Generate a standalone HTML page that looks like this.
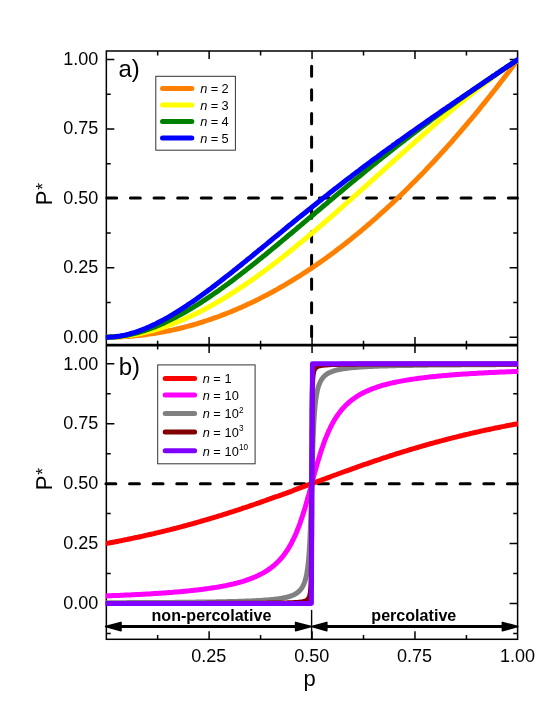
<!DOCTYPE html><html><head><meta charset="utf-8"><style>html,body{margin:0;padding:0;background:#fff}svg{display:block;will-change:transform}text{font-family:"Liberation Sans",sans-serif;fill:#000}</style></head><body>
<svg width="548" height="709" viewBox="0 0 548 709">
<rect width="548" height="709" fill="#fff"/>
<defs><clipPath id="ca"><rect x="105.7" y="51.0" width="412.3" height="294.1"/></clipPath><clipPath id="cb"><rect x="105.7" y="345.1" width="412.3" height="294.19999999999993"/></clipPath></defs>
<rect x="106.35" y="51.0" width="411.25" height="588.3" stroke="#000" stroke-width="1.5" fill="none"/>
<path d="M106.35 345.1H517.6" stroke="#000" stroke-width="2.7" fill="none"/>
<path d="M157.66 51.0v4.4M157.66 345.1v-4.4M157.66 345.1v4.4M157.66 639.3v-4.4M209.12 51.0v8.0M209.12 345.1v-8.0M209.12 345.1v8.0M209.12 639.3v-8.0M260.59 51.0v4.4M260.59 345.1v-4.4M260.59 345.1v4.4M260.59 639.3v-4.4M312.05 51.0v8.0M312.05 345.1v-8.0M312.05 345.1v8.0M312.05 639.3v-8.0M363.51 51.0v4.4M363.51 345.1v-4.4M363.51 345.1v4.4M363.51 639.3v-4.4M414.97 51.0v8.0M414.97 345.1v-8.0M414.97 345.1v8.0M414.97 639.3v-8.0M466.44 51.0v4.4M466.44 345.1v-4.4M466.44 345.1v4.4M466.44 639.3v-4.4M106.35 337.20h8.0M517.6 337.20h-8.0M106.35 302.49h4.4M517.6 302.49h-4.4M106.35 267.77h8.0M517.6 267.77h-8.0M106.35 233.06h4.4M517.6 233.06h-4.4M106.35 198.35h8.0M517.6 198.35h-8.0M106.35 163.64h4.4M517.6 163.64h-4.4M106.35 128.93h8.0M517.6 128.93h-8.0M106.35 94.21h4.4M517.6 94.21h-4.4M106.35 59.50h8.0M517.6 59.50h-8.0M106.35 633.46h4.4M517.6 633.46h-4.4M106.35 603.50h8.0M517.6 603.50h-8.0M106.35 573.54h4.4M517.6 573.54h-4.4M106.35 543.58h8.0M517.6 543.58h-8.0M106.35 513.61h4.4M517.6 513.61h-4.4M106.35 483.65h8.0M517.6 483.65h-8.0M106.35 453.69h4.4M517.6 453.69h-4.4M106.35 423.73h8.0M517.6 423.73h-8.0M106.35 393.76h4.4M517.6 393.76h-4.4M106.35 363.80h8.0M517.6 363.80h-8.0" stroke="#000" stroke-width="1.5" fill="none"/>
<path d="M106.8 198.00H517.4" stroke="#000" stroke-width="3" stroke-linecap="round" stroke-dasharray="9.9 13.72" fill="none"/>
<path d="M311.6 336.50V59.50" stroke="#000" stroke-width="3" stroke-linecap="round" stroke-dasharray="10.2 13.45" fill="none"/>
<g clip-path="url(#ca)">
<polyline points="104.1,337.2 106.2,337.2 108.3,337.2 110.3,337.2 112.4,337.1 114.4,337.1 116.5,337.0 118.6,337.0 120.6,336.9 122.7,336.8 124.7,336.6 126.8,336.5 128.8,336.4 130.9,336.2 133.0,336.0 135.0,335.8 137.1,335.6 139.1,335.4 141.2,335.2 143.3,335.0 145.3,334.7 147.4,334.4 149.4,334.1 151.5,333.8 153.5,333.5 155.6,333.2 157.7,332.9 159.7,332.5 161.8,332.1 163.8,331.8 165.9,331.4 168.0,331.0 170.0,330.5 172.1,330.1 174.1,329.6 176.2,329.2 178.2,328.7 180.3,328.2 182.4,327.7 184.4,327.2 186.5,326.6 188.5,326.1 190.6,325.5 192.7,325.0 194.7,324.4 196.8,323.8 198.8,323.1 200.9,322.5 202.9,321.9 205.0,321.2 207.1,320.5 209.1,319.8 211.2,319.1 213.2,318.4 215.3,317.7 217.4,317.0 219.4,316.2 221.5,315.4 223.5,314.6 225.6,313.8 227.7,313.0 229.7,312.2 231.8,311.4 233.8,310.5 235.9,309.6 237.9,308.8 240.0,307.9 242.1,307.0 244.1,306.0 246.2,305.1 248.2,304.1 250.3,303.2 252.4,302.2 254.4,301.2 256.5,300.2 258.5,299.2 260.6,298.1 262.6,297.1 264.7,296.0 266.8,295.0 268.8,293.9 270.9,292.8 272.9,291.7 275.0,290.5 277.1,289.4 279.1,288.2 281.2,287.0 283.2,285.9 285.3,284.7 287.3,283.4 289.4,282.2 291.5,281.0 293.5,279.7 295.6,278.4 297.6,277.2 299.7,275.9 301.8,274.5 303.8,273.2 305.9,271.9 307.9,270.5 310.0,269.2 312.1,267.8 314.1,266.4 316.2,265.0 318.2,263.5 320.3,262.1 322.3,260.7 324.4,259.2 326.5,257.7 328.5,256.2 330.6,254.7 332.6,253.2 334.7,251.7 336.8,250.1 338.8,248.6 340.9,247.0 342.9,245.4 345.0,243.8 347.0,242.2 349.1,240.5 351.2,238.9 353.2,237.2 355.3,235.6 357.3,233.9 359.4,232.2 361.5,230.5 363.5,228.7 365.6,227.0 367.6,225.2 369.7,223.5 371.7,221.7 373.8,219.9 375.9,218.1 377.9,216.2 380.0,214.4 382.0,212.5 384.1,210.7 386.2,208.8 388.2,206.9 390.3,205.0 392.3,203.1 394.4,201.1 396.4,199.2 398.5,197.2 400.6,195.2 402.6,193.2 404.7,191.2 406.7,189.2 408.8,187.2 410.9,185.1 412.9,183.1 415.0,181.0 417.0,178.9 419.1,176.8 421.2,174.7 423.2,172.6 425.3,170.4 427.3,168.2 429.4,166.1 431.4,163.9 433.5,161.7 435.6,159.5 437.6,157.2 439.7,155.0 441.7,152.7 443.8,150.5 445.9,148.2 447.9,145.9 450.0,143.6 452.0,141.3 454.1,138.9 456.1,136.6 458.2,134.2 460.3,131.8 462.3,129.4 464.4,127.0 466.4,124.6 468.5,122.1 470.6,119.7 472.6,117.2 474.7,114.8 476.7,112.3 478.8,109.8 480.8,107.2 482.9,104.7 485.0,102.2 487.0,99.6 489.1,97.0 491.1,94.4 493.2,91.8 495.3,89.2 497.3,86.6 499.4,83.9 501.4,81.3 503.5,78.6 505.5,75.9 507.6,73.2 509.7,70.5 511.7,67.8 513.8,65.0 515.8,62.3 517.9,59.5" fill="none" stroke="#FF8000" stroke-width="5" stroke-linejoin="round"/>
<polyline points="104.1,337.2 106.2,337.2 108.3,337.2 110.3,337.1 112.4,337.1 114.4,337.0 116.5,336.9 118.6,336.7 120.6,336.5 122.7,336.3 124.7,336.1 126.8,335.8 128.8,335.6 130.9,335.3 133.0,334.9 135.0,334.6 137.1,334.2 139.1,333.8 141.2,333.4 143.3,332.9 145.3,332.4 147.4,331.9 149.4,331.4 151.5,330.8 153.5,330.3 155.6,329.7 157.7,329.1 159.7,328.4 161.8,327.8 163.8,327.1 165.9,326.4 168.0,325.6 170.0,324.9 172.1,324.1 174.1,323.3 176.2,322.5 178.2,321.7 180.3,320.8 182.4,319.9 184.4,319.1 186.5,318.1 188.5,317.2 190.6,316.3 192.7,315.3 194.7,314.3 196.8,313.3 198.8,312.2 200.9,311.2 202.9,310.1 205.0,309.0 207.1,307.9 209.1,306.8 211.2,305.7 213.2,304.5 215.3,303.4 217.4,302.2 219.4,301.0 221.5,299.8 223.5,298.5 225.6,297.3 227.7,296.0 229.7,294.7 231.8,293.4 233.8,292.1 235.9,290.8 237.9,289.4 240.0,288.1 242.1,286.7 244.1,285.3 246.2,283.9 248.2,282.5 250.3,281.1 252.4,279.6 254.4,278.2 256.5,276.7 258.5,275.2 260.6,273.7 262.6,272.2 264.7,270.7 266.8,269.2 268.8,267.7 270.9,266.1 272.9,264.5 275.0,263.0 277.1,261.4 279.1,259.8 281.2,258.2 283.2,256.6 285.3,255.0 287.3,253.3 289.4,251.7 291.5,250.0 293.5,248.4 295.6,246.7 297.6,245.0 299.7,243.3 301.8,241.6 303.8,239.9 305.9,238.2 307.9,236.5 310.0,234.8 312.1,233.1 314.1,231.3 316.2,229.6 318.2,227.8 320.3,226.1 322.3,224.3 324.4,222.5 326.5,220.8 328.5,219.0 330.6,217.2 332.6,215.4 334.7,213.6 336.8,211.8 338.8,210.0 340.9,208.2 342.9,206.4 345.0,204.5 347.0,202.7 349.1,200.9 351.2,199.1 353.2,197.2 355.3,195.4 357.3,193.6 359.4,191.7 361.5,189.9 363.5,188.0 365.6,186.2 367.6,184.4 369.7,182.5 371.7,180.7 373.8,178.8 375.9,177.0 377.9,175.1 380.0,173.3 382.0,171.4 384.1,169.6 386.2,167.7 388.2,165.9 390.3,164.0 392.3,162.2 394.4,160.3 396.4,158.5 398.5,156.6 400.6,154.8 402.6,152.9 404.7,151.1 406.7,149.3 408.8,147.4 410.9,145.6 412.9,143.8 415.0,141.9 417.0,140.1 419.1,138.3 421.2,136.5 423.2,134.7 425.3,132.9 427.3,131.1 429.4,129.3 431.4,127.5 433.5,125.7 435.6,123.9 437.6,122.2 439.7,120.4 441.7,118.6 443.8,116.9 445.9,115.1 447.9,113.4 450.0,111.6 452.0,109.9 454.1,108.2 456.1,106.5 458.2,104.8 460.3,103.1 462.3,101.4 464.4,99.7 466.4,98.0 468.5,96.3 470.6,94.7 472.6,93.0 474.7,91.4 476.7,89.8 478.8,88.1 480.8,86.5 482.9,84.9 485.0,83.4 487.0,81.8 489.1,80.2 491.1,78.6 493.2,77.1 495.3,75.6 497.3,74.0 499.4,72.5 501.4,71.0 503.5,69.5 505.5,68.1 507.6,66.6 509.7,65.2 511.7,63.7 513.8,62.3 515.8,60.9 517.9,59.5" fill="none" stroke="#FFFF00" stroke-width="5" stroke-linejoin="round"/>
<polyline points="104.1,337.2 106.2,337.2 108.3,337.2 110.3,337.1 112.4,337.0 114.4,336.9 116.5,336.7 118.6,336.5 120.6,336.2 122.7,335.9 124.7,335.6 126.8,335.2 128.8,334.8 130.9,334.4 133.0,333.9 135.0,333.4 137.1,332.9 139.1,332.3 141.2,331.7 143.3,331.0 145.3,330.4 147.4,329.7 149.4,328.9 151.5,328.2 153.5,327.4 155.6,326.6 157.7,325.7 159.7,324.9 161.8,324.0 163.8,323.1 165.9,322.1 168.0,321.1 170.0,320.1 172.1,319.1 174.1,318.1 176.2,317.0 178.2,315.9 180.3,314.8 182.4,313.6 184.4,312.5 186.5,311.3 188.5,310.1 190.6,308.9 192.7,307.6 194.7,306.4 196.8,305.1 198.8,303.8 200.9,302.5 202.9,301.2 205.0,299.8 207.1,298.4 209.1,297.1 211.2,295.7 213.2,294.3 215.3,292.8 217.4,291.4 219.4,289.9 221.5,288.5 223.5,287.0 225.6,285.5 227.7,284.0 229.7,282.5 231.8,280.9 233.8,279.4 235.9,277.8 237.9,276.3 240.0,274.7 242.1,273.1 244.1,271.5 246.2,269.9 248.2,268.3 250.3,266.7 252.4,265.1 254.4,263.4 256.5,261.8 258.5,260.1 260.6,258.5 262.6,256.8 264.7,255.2 266.8,253.5 268.8,251.8 270.9,250.1 272.9,248.4 275.0,246.7 277.1,245.0 279.1,243.3 281.2,241.6 283.2,239.9 285.3,238.2 287.3,236.5 289.4,234.7 291.5,233.0 293.5,231.3 295.6,229.6 297.6,227.8 299.7,226.1 301.8,224.4 303.8,222.6 305.9,220.9 307.9,219.2 310.0,217.4 312.1,215.7 314.1,214.0 316.2,212.2 318.2,210.5 320.3,208.8 322.3,207.0 324.4,205.3 326.5,203.6 328.5,201.8 330.6,200.1 332.6,198.4 334.7,196.7 336.8,194.9 338.8,193.2 340.9,191.5 342.9,189.8 345.0,188.1 347.0,186.4 349.1,184.6 351.2,182.9 353.2,181.2 355.3,179.5 357.3,177.9 359.4,176.2 361.5,174.5 363.5,172.8 365.6,171.1 367.6,169.4 369.7,167.8 371.7,166.1 373.8,164.4 375.9,162.8 377.9,161.1 380.0,159.5 382.0,157.8 384.1,156.2 386.2,154.6 388.2,152.9 390.3,151.3 392.3,149.7 394.4,148.1 396.4,146.4 398.5,144.8 400.6,143.2 402.6,141.6 404.7,140.1 406.7,138.5 408.8,136.9 410.9,135.3 412.9,133.7 415.0,132.2 417.0,130.6 419.1,129.1 421.2,127.5 423.2,126.0 425.3,124.4 427.3,122.9 429.4,121.4 431.4,119.8 433.5,118.3 435.6,116.8 437.6,115.3 439.7,113.8 441.7,112.3 443.8,110.8 445.9,109.3 447.9,107.8 450.0,106.4 452.0,104.9 454.1,103.4 456.1,102.0 458.2,100.5 460.3,99.0 462.3,97.6 464.4,96.1 466.4,94.7 468.5,93.2 470.6,91.8 472.6,90.4 474.7,88.9 476.7,87.5 478.8,86.1 480.8,84.7 482.9,83.3 485.0,81.8 487.0,80.4 489.1,79.0 491.1,77.6 493.2,76.2 495.3,74.8 497.3,73.4 499.4,72.0 501.4,70.6 503.5,69.2 505.5,67.8 507.6,66.4 509.7,65.1 511.7,63.7 513.8,62.3 515.8,60.9 517.9,59.5" fill="none" stroke="#008000" stroke-width="5" stroke-linejoin="round"/>
<polyline points="104.1,337.2 106.2,337.2 108.3,337.2 110.3,337.1 112.4,337.0 114.4,336.8 116.5,336.5 118.6,336.2 120.6,335.9 122.7,335.5 124.7,335.1 126.8,334.6 128.8,334.1 130.9,333.5 133.0,332.9 135.0,332.3 137.1,331.6 139.1,330.9 141.2,330.1 143.3,329.3 145.3,328.5 147.4,327.6 149.4,326.8 151.5,325.8 153.5,324.9 155.6,323.9 157.7,322.8 159.7,321.8 161.8,320.7 163.8,319.6 165.9,318.5 168.0,317.3 170.0,316.1 172.1,314.9 174.1,313.7 176.2,312.4 178.2,311.1 180.3,309.8 182.4,308.5 184.4,307.1 186.5,305.8 188.5,304.4 190.6,303.0 192.7,301.6 194.7,300.2 196.8,298.7 198.8,297.3 200.9,295.8 202.9,294.3 205.0,292.8 207.1,291.3 209.1,289.7 211.2,288.2 213.2,286.6 215.3,285.1 217.4,283.5 219.4,281.9 221.5,280.3 223.5,278.7 225.6,277.1 227.7,275.5 229.7,273.9 231.8,272.3 233.8,270.6 235.9,269.0 237.9,267.3 240.0,265.7 242.1,264.0 244.1,262.4 246.2,260.7 248.2,259.0 250.3,257.4 252.4,255.7 254.4,254.0 256.5,252.3 258.5,250.6 260.6,249.0 262.6,247.3 264.7,245.6 266.8,243.9 268.8,242.2 270.9,240.5 272.9,238.8 275.0,237.1 277.1,235.5 279.1,233.8 281.2,232.1 283.2,230.4 285.3,228.7 287.3,227.0 289.4,225.3 291.5,223.7 293.5,222.0 295.6,220.3 297.6,218.6 299.7,217.0 301.8,215.3 303.8,213.7 305.9,212.0 307.9,210.3 310.0,208.7 312.1,207.0 314.1,205.4 316.2,203.7 318.2,202.1 320.3,200.5 322.3,198.8 324.4,197.2 326.5,195.6 328.5,194.0 330.6,192.3 332.6,190.7 334.7,189.1 336.8,187.5 338.8,185.9 340.9,184.3 342.9,182.7 345.0,181.1 347.0,179.6 349.1,178.0 351.2,176.4 353.2,174.8 355.3,173.3 357.3,171.7 359.4,170.2 361.5,168.6 363.5,167.1 365.6,165.5 367.6,164.0 369.7,162.5 371.7,160.9 373.8,159.4 375.9,157.9 377.9,156.4 380.0,154.9 382.0,153.3 384.1,151.8 386.2,150.3 388.2,148.8 390.3,147.4 392.3,145.9 394.4,144.4 396.4,142.9 398.5,141.4 400.6,140.0 402.6,138.5 404.7,137.0 406.7,135.6 408.8,134.1 410.9,132.6 412.9,131.2 415.0,129.7 417.0,128.3 419.1,126.8 421.2,125.4 423.2,124.0 425.3,122.5 427.3,121.1 429.4,119.7 431.4,118.2 433.5,116.8 435.6,115.4 437.6,114.0 439.7,112.6 441.7,111.1 443.8,109.7 445.9,108.3 447.9,106.9 450.0,105.5 452.0,104.1 454.1,102.7 456.1,101.3 458.2,99.9 460.3,98.5 462.3,97.1 464.4,95.7 466.4,94.3 468.5,92.9 470.6,91.5 472.6,90.1 474.7,88.7 476.7,87.3 478.8,85.9 480.8,84.5 482.9,83.1 485.0,81.7 487.0,80.3 489.1,78.9 491.1,77.6 493.2,76.2 495.3,74.8 497.3,73.4 499.4,72.0 501.4,70.6 503.5,69.2 505.5,67.8 507.6,66.4 509.7,65.1 511.7,63.7 513.8,62.3 515.8,60.9 517.9,59.5 520.0,58.1 522.0,56.7" fill="none" stroke="#0000FF" stroke-width="5" stroke-linejoin="round"/>
</g>
<path d="M105.9 483.65H517.4" stroke="#000" stroke-width="3" stroke-linecap="round" stroke-dasharray="9.9 13.72" fill="none"/>
<g clip-path="url(#cb)">
<polyline points="104.5,543.8 105.9,543.6 107.3,543.3 108.6,543.1 110.0,542.8 111.4,542.5 112.8,542.3 114.1,542.0 115.5,541.8 116.9,541.5 118.3,541.2 119.6,540.9 121.0,540.7 122.4,540.4 123.7,540.1 125.1,539.8 126.5,539.6 127.9,539.3 129.2,539.0 130.6,538.7 132.0,538.4 133.3,538.1 134.7,537.8 136.1,537.5 137.5,537.3 138.8,537.0 140.2,536.7 141.6,536.4 143.0,536.1 144.3,535.7 145.7,535.4 147.1,535.1 148.4,534.8 149.8,534.5 151.2,534.2 152.6,533.9 153.9,533.6 155.3,533.2 156.7,532.9 158.1,532.6 159.4,532.3 160.8,531.9 162.2,531.6 163.5,531.3 164.9,530.9 166.3,530.6 167.7,530.2 169.0,529.9 170.4,529.6 171.8,529.2 173.1,528.9 174.5,528.5 175.9,528.2 177.3,527.8 178.6,527.4 180.0,527.1 181.4,526.7 182.8,526.4 184.1,526.0 185.5,525.6 186.9,525.3 188.2,524.9 189.6,524.5 191.0,524.1 192.4,523.8 193.7,523.4 195.1,523.0 196.5,522.6 197.8,522.2 199.2,521.8 200.6,521.4 202.0,521.0 203.3,520.6 204.7,520.2 206.1,519.8 207.5,519.4 208.8,519.0 210.2,518.6 211.6,518.2 212.9,517.8 214.3,517.4 215.7,517.0 217.1,516.5 218.4,516.1 219.8,515.7 221.2,515.3 222.5,514.8 223.9,514.4 225.3,514.0 226.7,513.6 228.0,513.1 229.4,512.7 230.8,512.2 232.2,511.8 233.5,511.4 234.9,510.9 236.3,510.5 237.6,510.0 239.0,509.6 240.4,509.1 241.8,508.7 243.1,508.2 244.5,507.7 245.9,507.3 247.2,506.8 248.6,506.4 250.0,505.9 251.4,505.4 252.7,505.0 254.1,504.5 255.5,504.0 256.9,503.5 258.2,503.1 259.6,502.6 261.0,502.1 262.3,501.6 263.7,501.1 265.1,500.7 266.5,500.2 267.8,499.7 269.2,499.2 270.6,498.7 272.0,498.2 273.3,497.7 274.7,497.2 276.1,496.7 277.4,496.3 278.8,495.8 280.2,495.3 281.6,494.8 282.9,494.3 284.3,493.8 285.7,493.3 287.0,492.8 288.4,492.3 289.8,491.8 291.2,491.3 292.5,490.8 293.9,490.2 295.3,489.7 296.7,489.2 298.0,488.7 299.4,488.2 300.8,487.7 302.1,487.2 303.5,486.7 304.9,486.2 306.3,485.7 307.6,485.2 309.0,484.7 310.4,484.2 311.8,483.6 313.1,483.1 314.5,482.6 315.9,482.1 317.2,481.6 318.6,481.1 320.0,480.6 321.4,480.1 322.7,479.6 324.1,479.1 325.5,478.6 326.8,478.1 328.2,477.6 329.6,477.1 331.0,476.5 332.3,476.0 333.7,475.5 335.1,475.0 336.5,474.5 337.8,474.0 339.2,473.5 340.6,473.0 341.9,472.5 343.3,472.0 344.7,471.5 346.1,471.0 347.4,470.6 348.8,470.1 350.2,469.6 351.5,469.1 352.9,468.6 354.3,468.1 355.7,467.6 357.0,467.1 358.4,466.6 359.8,466.2 361.2,465.7 362.5,465.2 363.9,464.7 365.3,464.2 366.6,463.8 368.0,463.3 369.4,462.8 370.8,462.3 372.1,461.9 373.5,461.4 374.9,460.9 376.3,460.5 377.6,460.0 379.0,459.6 380.4,459.1 381.7,458.6 383.1,458.2 384.5,457.7 385.9,457.3 387.2,456.8 388.6,456.4 390.0,455.9 391.3,455.5 392.7,455.1 394.1,454.6 395.5,454.2 396.8,453.7 398.2,453.3 399.6,452.9 401.0,452.5 402.3,452.0 403.7,451.6 405.1,451.2 406.4,450.8 407.8,450.3 409.2,449.9 410.6,449.5 411.9,449.1 413.3,448.7 414.7,448.3 416.0,447.9 417.4,447.5 418.8,447.1 420.2,446.7 421.5,446.3 422.9,445.9 424.3,445.5 425.7,445.1 427.0,444.7 428.4,444.3 429.8,443.9 431.1,443.5 432.5,443.2 433.9,442.8 435.3,442.4 436.6,442.0 438.0,441.7 439.4,441.3 440.7,440.9 442.1,440.6 443.5,440.2 444.9,439.9 446.2,439.5 447.6,439.1 449.0,438.8 450.4,438.4 451.7,438.1 453.1,437.7 454.5,437.4 455.8,437.1 457.2,436.7 458.6,436.4 460.0,436.0 461.3,435.7 462.7,435.4 464.1,435.0 465.4,434.7 466.8,434.4 468.2,434.1 469.6,433.7 470.9,433.4 472.3,433.1 473.7,432.8 475.1,432.5 476.4,432.2 477.8,431.9 479.2,431.6 480.5,431.2 481.9,430.9 483.3,430.6 484.7,430.3 486.0,430.0 487.4,429.8 488.8,429.5 490.2,429.2 491.5,428.9 492.9,428.6 494.3,428.3 495.6,428.0 497.0,427.7 498.4,427.5 499.8,427.2 501.1,426.9 502.5,426.6 503.9,426.4 505.2,426.1 506.6,425.8 508.0,425.5 509.4,425.3 510.7,425.0 512.1,424.8 513.5,424.5 514.9,424.2 516.2,424.0 517.6,423.7 519.0,423.5 520.3,423.2" fill="none" stroke="#FF0000" stroke-width="5" stroke-linejoin="round"/>
<polyline points="104.5,595.9 105.9,595.9 107.3,595.8 108.6,595.8 110.0,595.7 111.4,595.7 112.8,595.6 114.1,595.6 115.5,595.5 116.9,595.5 118.3,595.4 119.6,595.4 121.0,595.3 122.4,595.2 123.7,595.2 125.1,595.1 126.5,595.1 127.9,595.0 129.2,594.9 130.6,594.9 132.0,594.8 133.3,594.7 134.7,594.7 136.1,594.6 137.5,594.5 138.8,594.5 140.2,594.4 141.6,594.3 143.0,594.2 144.3,594.2 145.7,594.1 147.1,594.0 148.4,593.9 149.8,593.9 151.2,593.8 152.6,593.7 153.9,593.6 155.3,593.5 156.7,593.4 158.1,593.3 159.4,593.3 160.8,593.2 162.2,593.1 163.5,593.0 164.9,592.9 166.3,592.8 167.7,592.7 169.0,592.6 170.4,592.5 171.8,592.4 173.1,592.3 174.5,592.1 175.9,592.0 177.3,591.9 178.6,591.8 180.0,591.7 181.4,591.6 182.8,591.4 184.1,591.3 185.5,591.2 186.9,591.0 188.2,590.9 189.6,590.8 191.0,590.6 192.4,590.5 193.7,590.3 195.1,590.2 196.5,590.0 197.8,589.9 199.2,589.7 200.6,589.5 202.0,589.4 203.3,589.2 204.7,589.0 206.1,588.8 207.5,588.6 208.8,588.4 210.2,588.2 211.6,588.0 212.9,587.8 214.3,587.6 215.7,587.4 217.1,587.2 218.4,586.9 219.8,586.7 221.2,586.4 222.5,586.2 223.9,585.9 225.3,585.7 226.7,585.4 228.0,585.1 229.4,584.8 230.8,584.5 232.2,584.2 233.5,583.9 234.9,583.5 236.3,583.2 237.6,582.8 239.0,582.5 240.4,582.1 241.8,581.7 243.1,581.3 244.5,580.8 245.9,580.4 247.2,579.9 248.6,579.4 250.0,579.0 251.4,578.4 252.7,577.9 254.1,577.3 255.5,576.7 256.9,576.1 258.2,575.5 259.6,574.8 261.0,574.1 262.3,573.4 263.7,572.6 265.1,571.8 266.5,570.9 267.8,570.1 269.2,569.1 270.6,568.1 271.0,567.8 271.4,567.5 271.8,567.2 272.0,567.1 272.2,566.9 272.6,566.5 273.1,566.2 273.3,566.0 273.5,565.9 273.9,565.5 274.3,565.2 274.7,564.8 275.1,564.4 275.5,564.1 275.9,563.7 276.1,563.6 276.3,563.3 276.8,562.9 277.2,562.5 277.4,562.3 277.6,562.1 278.0,561.7 278.4,561.3 278.8,560.9 279.2,560.4 279.6,560.0 280.0,559.6 280.2,559.4 280.5,559.1 280.9,558.6 281.3,558.2 281.6,557.8 281.7,557.7 282.1,557.2 282.5,556.7 282.9,556.2 283.3,555.7 283.8,555.1 284.2,554.6 284.3,554.4 284.6,554.0 285.0,553.5 285.4,552.9 285.7,552.5 285.8,552.3 286.2,551.7 286.6,551.1 287.0,550.5 287.5,549.9 287.9,549.2 288.3,548.6 288.4,548.3 288.7,547.9 289.1,547.2 289.5,546.5 289.8,546.0 289.9,545.8 290.3,545.1 290.8,544.3 291.2,543.6 291.6,542.8 292.0,542.0 292.4,541.2 292.5,540.9 292.8,540.4 293.2,539.6 293.6,538.7 293.9,538.1 294.0,537.8 294.5,537.0 294.9,536.1 295.3,535.1 295.7,534.2 296.1,533.2 296.5,532.3 296.7,531.9 296.9,531.3 297.3,530.2 297.8,529.2 298.0,528.5 298.2,528.2 298.6,527.1 299.0,526.0 299.4,524.9 299.8,523.8 300.2,522.6 300.6,521.4 300.8,521.0 301.0,520.2 301.5,519.0 301.9,517.8 302.1,517.0 302.3,516.5 302.7,515.3 303.1,514.0 303.5,512.7 303.9,511.4 304.3,510.0 304.8,508.7 304.9,508.2 305.2,507.3 305.6,505.9 306.0,504.5 306.3,503.5 306.4,503.1 306.8,501.6 307.2,500.2 307.6,498.7 308.0,497.2 308.5,495.8 308.9,494.3 309.0,493.8 309.3,492.8 309.7,491.3 310.1,489.7 310.4,488.7 310.5,488.2 310.9,486.7 311.3,485.2 311.8,483.6 312.2,482.1 312.6,480.6 313.0,479.1 313.1,478.6 313.4,477.6 313.8,476.0 314.2,474.5 314.5,473.5 314.6,473.0 315.0,471.5 315.5,470.1 315.9,468.6 316.3,467.1 316.7,465.7 317.1,464.2 317.2,463.8 317.5,462.8 317.9,461.4 318.3,460.0 318.6,459.1 318.7,458.6 319.2,457.3 319.6,455.9 320.0,454.6 320.4,453.3 320.8,452.0 321.2,450.8 321.4,450.3 321.6,449.5 322.0,448.3 322.5,447.1 322.7,446.3 322.9,445.9 323.3,444.7 323.7,443.5 324.1,442.4 324.5,441.3 324.9,440.2 325.3,439.1 325.5,438.8 325.7,438.1 326.2,437.1 326.6,436.0 326.8,435.4 327.0,435.0 327.4,434.1 327.8,433.1 328.2,432.2 328.6,431.2 329.0,430.3 329.5,429.5 329.6,429.2 329.9,428.6 330.3,427.7 330.7,426.9 331.0,426.4 331.1,426.1 331.5,425.3 331.9,424.5 332.3,423.7 332.7,423.0 333.2,422.2 333.6,421.5 333.7,421.3 334.0,420.8 334.4,420.1 334.8,419.4 335.1,419.0 335.2,418.7 335.6,418.1 336.0,417.4 336.5,416.8 336.9,416.2 337.3,415.6 337.7,415.0 337.8,414.8 338.1,414.4 338.5,413.8 338.9,413.3 339.2,412.9 339.3,412.7 339.7,412.2 340.2,411.6 340.6,411.1 341.0,410.6 341.4,410.1 341.8,409.6 341.9,409.5 342.2,409.1 342.6,408.7 343.0,408.2 343.3,407.9 343.5,407.7 343.9,407.3 344.3,406.9 344.7,406.4 345.1,406.0 345.5,405.6 345.9,405.2 346.1,405.0 346.3,404.8 346.7,404.4 347.2,404.0 347.4,403.7 347.6,403.6 348.0,403.2 348.4,402.9 348.8,402.5 349.2,402.1 349.6,401.8 350.0,401.4 350.2,401.3 350.4,401.1 350.9,400.8 351.3,400.4 351.5,400.2 351.7,400.1 352.1,399.8 352.5,399.5 352.9,399.2 354.3,398.2 355.7,397.2 357.0,396.4 358.4,395.5 359.8,394.7 361.2,393.9 362.5,393.2 363.9,392.5 365.3,391.8 366.6,391.2 368.0,390.6 369.4,390.0 370.8,389.4 372.1,388.9 373.5,388.3 374.9,387.9 376.3,387.4 377.6,386.9 379.0,386.5 380.4,386.0 381.7,385.6 383.1,385.2 384.5,384.8 385.9,384.5 387.2,384.1 388.6,383.8 390.0,383.4 391.3,383.1 392.7,382.8 394.1,382.5 395.5,382.2 396.8,381.9 398.2,381.6 399.6,381.4 401.0,381.1 402.3,380.9 403.7,380.6 405.1,380.4 406.4,380.1 407.8,379.9 409.2,379.7 410.6,379.5 411.9,379.3 413.3,379.1 414.7,378.9 416.0,378.7 417.4,378.5 418.8,378.3 420.2,378.1 421.5,377.9 422.9,377.8 424.3,377.6 425.7,377.4 427.0,377.3 428.4,377.1 429.8,377.0 431.1,376.8 432.5,376.7 433.9,376.5 435.3,376.4 436.6,376.3 438.0,376.1 439.4,376.0 440.7,375.9 442.1,375.7 443.5,375.6 444.9,375.5 446.2,375.4 447.6,375.3 449.0,375.2 450.4,375.0 451.7,374.9 453.1,374.8 454.5,374.7 455.8,374.6 457.2,374.5 458.6,374.4 460.0,374.3 461.3,374.2 462.7,374.1 464.1,374.0 465.4,374.0 466.8,373.9 468.2,373.8 469.6,373.7 470.9,373.6 472.3,373.5 473.7,373.4 475.1,373.4 476.4,373.3 477.8,373.2 479.2,373.1 480.5,373.1 481.9,373.0 483.3,372.9 484.7,372.8 486.0,372.8 487.4,372.7 488.8,372.6 490.2,372.6 491.5,372.5 492.9,372.4 494.3,372.4 495.6,372.3 497.0,372.2 498.4,372.2 499.8,372.1 501.1,372.1 502.5,372.0 503.9,371.9 505.2,371.9 506.6,371.8 508.0,371.8 509.4,371.7 510.7,371.7 512.1,371.6 513.5,371.6 514.9,371.5 516.2,371.5 517.6,371.4 519.0,371.4 520.3,371.3" fill="none" stroke="#FF00FF" stroke-width="5" stroke-linejoin="round"/>
<polyline points="104.5,602.7 105.9,602.7 107.3,602.7 108.6,602.7 110.0,602.7 111.4,602.7 112.8,602.7 114.1,602.7 115.5,602.7 116.9,602.7 118.3,602.7 119.6,602.7 121.0,602.7 122.4,602.7 123.7,602.7 125.1,602.7 126.5,602.7 127.9,602.6 129.2,602.6 130.6,602.6 132.0,602.6 133.3,602.6 134.7,602.6 136.1,602.6 137.5,602.6 138.8,602.6 140.2,602.6 141.6,602.6 143.0,602.6 144.3,602.6 145.7,602.6 147.1,602.5 148.4,602.5 149.8,602.5 151.2,602.5 152.6,602.5 153.9,602.5 155.3,602.5 156.7,602.5 158.1,602.5 159.4,602.5 160.8,602.5 162.2,602.5 163.5,602.4 164.9,602.4 166.3,602.4 167.7,602.4 169.0,602.4 170.4,602.4 171.8,602.4 173.1,602.4 174.5,602.4 175.9,602.3 177.3,602.3 178.6,602.3 180.0,602.3 181.4,602.3 182.8,602.3 184.1,602.3 185.5,602.3 186.9,602.2 188.2,602.2 189.6,602.2 191.0,602.2 192.4,602.2 193.7,602.2 195.1,602.2 196.5,602.1 197.8,602.1 199.2,602.1 200.6,602.1 202.0,602.1 203.3,602.1 204.7,602.0 206.1,602.0 207.5,602.0 208.8,602.0 210.2,602.0 211.6,601.9 212.9,601.9 214.3,601.9 215.7,601.9 217.1,601.8 218.4,601.8 219.8,601.8 221.2,601.8 222.5,601.7 223.9,601.7 225.3,601.7 226.7,601.7 228.0,601.6 229.4,601.6 230.8,601.6 232.2,601.5 233.5,601.5 234.9,601.5 236.3,601.4 237.6,601.4 239.0,601.3 240.4,601.3 241.8,601.3 243.1,601.2 244.5,601.2 245.9,601.1 247.2,601.1 248.6,601.0 250.0,601.0 251.4,600.9 252.7,600.8 254.1,600.8 255.5,600.7 256.9,600.6 258.2,600.6 259.6,600.5 261.0,600.4 262.3,600.3 263.7,600.2 265.1,600.1 266.5,600.0 267.8,599.9 269.2,599.8 270.6,599.7 271.0,599.6 271.4,599.6 271.8,599.6 272.0,599.6 272.2,599.5 272.6,599.5 273.1,599.4 273.3,599.4 273.5,599.4 273.9,599.4 274.3,599.3 274.7,599.3 275.1,599.2 275.5,599.2 275.9,599.1 276.1,599.1 276.3,599.1 276.8,599.0 277.2,599.0 277.4,598.9 277.6,598.9 278.0,598.9 278.4,598.8 278.8,598.7 279.2,598.7 279.6,598.6 280.0,598.6 280.2,598.5 280.5,598.5 280.9,598.4 281.3,598.4 281.6,598.3 281.7,598.3 282.1,598.2 282.5,598.1 282.9,598.1 283.3,598.0 283.8,597.9 284.2,597.8 284.3,597.8 284.6,597.7 285.0,597.6 285.4,597.6 285.7,597.5 285.8,597.5 286.2,597.4 286.6,597.3 287.0,597.2 287.5,597.0 287.9,596.9 288.3,596.8 288.4,596.8 288.7,596.7 289.1,596.6 289.5,596.5 289.8,596.4 289.9,596.3 290.3,596.2 290.8,596.0 291.2,595.9 291.6,595.7 292.0,595.6 292.4,595.4 292.5,595.4 292.8,595.2 293.2,595.1 293.6,594.9 293.9,594.7 294.0,594.7 294.5,594.5 294.9,594.2 295.3,594.0 295.7,593.8 296.1,593.5 296.5,593.3 296.7,593.2 296.9,593.0 297.3,592.7 297.8,592.4 298.0,592.1 298.2,592.0 298.6,591.7 299.0,591.3 299.4,590.9 299.8,590.5 300.2,590.0 300.6,589.5 300.8,589.4 301.0,589.0 301.5,588.4 301.9,587.8 302.1,587.4 302.3,587.2 302.7,586.4 303.1,585.7 303.5,584.8 303.9,583.9 304.3,582.8 304.8,581.7 304.9,581.3 305.2,580.4 305.6,579.0 306.0,577.3 306.3,576.1 306.4,575.5 306.8,573.4 307.2,570.9 307.6,568.1 307.7,567.8 307.7,567.5 307.8,567.2 307.8,566.9 307.8,566.5 307.9,566.2 307.9,565.9 308.0,565.5 308.0,565.2 308.0,564.8 308.1,564.4 308.1,564.1 308.2,563.7 308.2,563.3 308.3,562.9 308.3,562.5 308.3,562.1 308.4,561.7 308.4,561.3 308.5,560.9 308.5,560.4 308.5,560.0 308.6,559.6 308.6,559.1 308.7,558.6 308.7,558.2 308.7,557.7 308.8,557.2 308.8,556.7 308.9,556.2 308.9,555.7 309.0,555.1 309.0,554.6 309.0,554.4 309.0,554.0 309.1,553.5 309.1,552.9 309.2,552.3 309.2,551.7 309.2,551.1 309.3,550.5 309.3,549.9 309.4,549.2 309.4,548.6 309.4,547.9 309.5,547.2 309.5,546.5 309.6,545.8 309.6,545.1 309.7,544.3 309.7,543.6 309.7,542.8 309.8,542.0 309.8,541.2 309.9,540.4 309.9,539.6 309.9,538.7 310.0,537.8 310.0,537.0 310.1,536.1 310.1,535.1 310.1,534.2 310.2,533.2 310.2,532.3 310.3,531.3 310.3,530.2 310.4,529.2 310.4,528.5 310.4,528.2 310.4,527.1 310.5,526.0 310.5,524.9 310.6,523.8 310.6,522.6 310.6,521.4 310.7,520.2 310.7,519.0 310.8,517.8 310.8,516.5 310.8,515.3 310.9,514.0 310.9,512.7 311.0,511.4 311.0,510.0 311.1,508.7 311.1,507.3 311.1,505.9 311.2,504.5 311.2,503.1 311.3,501.6 311.3,500.2 311.3,498.7 311.4,497.2 311.4,495.8 311.5,494.3 311.5,492.8 311.5,491.3 311.6,489.7 311.6,488.2 311.7,486.7 311.7,485.2 311.8,483.6 311.8,482.1 311.8,480.6 311.9,479.1 311.9,477.6 312.0,476.0 312.0,474.5 312.0,473.0 312.1,471.5 312.1,470.1 312.2,468.6 312.2,467.1 312.2,465.7 312.3,464.2 312.3,462.8 312.4,461.4 312.4,460.0 312.4,458.6 312.5,457.3 312.5,455.9 312.6,454.6 312.6,453.3 312.7,452.0 312.7,450.8 312.7,449.5 312.8,448.3 312.8,447.1 312.9,445.9 312.9,444.7 312.9,443.5 313.0,442.4 313.0,441.3 313.1,440.2 313.1,439.1 313.1,438.8 313.1,438.1 313.2,437.1 313.2,436.0 313.3,435.0 313.3,434.1 313.4,433.1 313.4,432.2 313.4,431.2 313.5,430.3 313.5,429.5 313.6,428.6 313.6,427.7 313.6,426.9 313.7,426.1 313.7,425.3 313.8,424.5 313.8,423.7 313.8,423.0 313.9,422.2 313.9,421.5 314.0,420.8 314.0,420.1 314.1,419.4 314.1,418.7 314.1,418.1 314.2,417.4 314.2,416.8 314.3,416.2 314.3,415.6 314.3,415.0 314.4,414.4 314.4,413.8 314.5,413.3 314.5,412.9 314.5,412.7 314.5,412.2 314.6,411.6 314.6,411.1 314.7,410.6 314.7,410.1 314.8,409.6 314.8,409.1 314.8,408.7 314.9,408.2 314.9,407.7 315.0,407.3 315.0,406.9 315.0,406.4 315.1,406.0 315.1,405.6 315.2,405.2 315.2,404.8 315.2,404.4 315.3,404.0 315.3,403.6 315.4,403.2 315.4,402.9 315.5,402.5 315.5,402.1 315.5,401.8 315.6,401.4 315.6,401.1 315.7,400.8 315.7,400.4 315.7,400.1 315.8,399.8 315.8,399.5 315.9,399.2 316.3,396.4 316.7,393.9 317.1,391.8 317.2,391.2 317.5,390.0 317.9,388.3 318.3,386.9 318.6,386.0 318.7,385.6 319.2,384.5 319.6,383.4 320.0,382.5 320.4,381.6 320.8,380.9 321.2,380.1 321.4,379.9 321.6,379.5 322.0,378.9 322.5,378.3 322.7,377.9 322.9,377.8 323.3,377.3 323.7,376.8 324.1,376.4 324.5,376.0 324.9,375.6 325.3,375.3 325.5,375.2 325.7,374.9 326.2,374.6 326.6,374.3 326.8,374.1 327.0,374.0 327.4,373.8 327.8,373.5 328.2,373.3 328.6,373.1 329.0,372.8 329.5,372.6 329.6,372.6 329.9,372.4 330.3,372.2 330.7,372.1 331.0,371.9 331.1,371.9 331.5,371.7 331.9,371.6 332.3,371.4 332.7,371.3 333.2,371.1 333.6,371.0 333.7,370.9 334.0,370.8 334.4,370.7 334.8,370.6 335.1,370.5 335.2,370.5 335.6,370.4 336.0,370.3 336.5,370.1 336.9,370.0 337.3,369.9 337.7,369.8 337.8,369.8 338.1,369.7 338.5,369.7 338.9,369.6 339.2,369.5 339.3,369.5 339.7,369.4 340.2,369.3 340.6,369.2 341.0,369.2 341.4,369.1 341.8,369.0 341.9,369.0 342.2,368.9 342.6,368.9 343.0,368.8 343.3,368.8 343.5,368.7 343.9,368.7 344.3,368.6 344.7,368.6 345.1,368.5 345.5,368.4 345.9,368.4 346.1,368.4 346.3,368.3 346.7,368.3 347.2,368.2 347.4,368.2 347.6,368.2 348.0,368.1 348.4,368.1 348.8,368.0 349.2,368.0 349.6,367.9 350.0,367.9 350.2,367.9 350.4,367.9 350.9,367.8 351.3,367.8 351.5,367.7 351.7,367.7 352.1,367.7 352.5,367.7 352.9,367.6 354.3,367.5 355.7,367.4 357.0,367.3 358.4,367.2 359.8,367.1 361.2,367.0 362.5,366.9 363.9,366.8 365.3,366.7 366.6,366.7 368.0,366.6 369.4,366.5 370.8,366.5 372.1,366.4 373.5,366.3 374.9,366.3 376.3,366.2 377.6,366.2 379.0,366.1 380.4,366.1 381.7,366.0 383.1,366.0 384.5,366.0 385.9,365.9 387.2,365.9 388.6,365.8 390.0,365.8 391.3,365.8 392.7,365.7 394.1,365.7 395.5,365.7 396.8,365.6 398.2,365.6 399.6,365.6 401.0,365.6 402.3,365.5 403.7,365.5 405.1,365.5 406.4,365.5 407.8,365.4 409.2,365.4 410.6,365.4 411.9,365.4 413.3,365.3 414.7,365.3 416.0,365.3 417.4,365.3 418.8,365.3 420.2,365.2 421.5,365.2 422.9,365.2 424.3,365.2 425.7,365.2 427.0,365.2 428.4,365.1 429.8,365.1 431.1,365.1 432.5,365.1 433.9,365.1 435.3,365.1 436.6,365.1 438.0,365.0 439.4,365.0 440.7,365.0 442.1,365.0 443.5,365.0 444.9,365.0 446.2,365.0 447.6,365.0 449.0,364.9 450.4,364.9 451.7,364.9 453.1,364.9 454.5,364.9 455.8,364.9 457.2,364.9 458.6,364.9 460.0,364.9 461.3,364.8 462.7,364.8 464.1,364.8 465.4,364.8 466.8,364.8 468.2,364.8 469.6,364.8 470.9,364.8 472.3,364.8 473.7,364.8 475.1,364.8 476.4,364.8 477.8,364.7 479.2,364.7 480.5,364.7 481.9,364.7 483.3,364.7 484.7,364.7 486.0,364.7 487.4,364.7 488.8,364.7 490.2,364.7 491.5,364.7 492.9,364.7 494.3,364.7 495.6,364.7 497.0,364.6 498.4,364.6 499.8,364.6 501.1,364.6 502.5,364.6 503.9,364.6 505.2,364.6 506.6,364.6 508.0,364.6 509.4,364.6 510.7,364.6 512.1,364.6 513.5,364.6 514.9,364.6 516.2,364.6 517.6,364.6 519.0,364.6 520.3,364.6" fill="none" stroke="#808080" stroke-width="5" stroke-linejoin="round"/>
<polyline points="104.5,603.4 105.9,603.4 107.3,603.4 108.6,603.4 110.0,603.4 111.4,603.4 112.8,603.4 114.1,603.4 115.5,603.4 116.9,603.4 118.3,603.4 119.6,603.4 121.0,603.4 122.4,603.4 123.7,603.4 125.1,603.4 126.5,603.4 127.9,603.4 129.2,603.4 130.6,603.4 132.0,603.4 133.3,603.4 134.7,603.4 136.1,603.4 137.5,603.4 138.8,603.4 140.2,603.4 141.6,603.4 143.0,603.4 144.3,603.4 145.7,603.4 147.1,603.4 148.4,603.4 149.8,603.4 151.2,603.4 152.6,603.4 153.9,603.4 155.3,603.4 156.7,603.4 158.1,603.4 159.4,603.4 160.8,603.4 162.2,603.4 163.5,603.4 164.9,603.4 166.3,603.4 167.7,603.4 169.0,603.4 170.4,603.4 171.8,603.4 173.1,603.4 174.5,603.4 175.9,603.4 177.3,603.4 178.6,603.4 180.0,603.4 181.4,603.4 182.8,603.4 184.1,603.4 185.5,603.4 186.9,603.4 188.2,603.4 189.6,603.4 191.0,603.4 192.4,603.4 193.7,603.4 195.1,603.4 196.5,603.4 197.8,603.4 199.2,603.4 200.6,603.4 202.0,603.4 203.3,603.4 204.7,603.4 206.1,603.4 207.5,603.3 208.8,603.3 210.2,603.3 211.6,603.3 212.9,603.3 214.3,603.3 215.7,603.3 217.1,603.3 218.4,603.3 219.8,603.3 221.2,603.3 222.5,603.3 223.9,603.3 225.3,603.3 226.7,603.3 228.0,603.3 229.4,603.3 230.8,603.3 232.2,603.3 233.5,603.3 234.9,603.3 236.3,603.3 237.6,603.3 239.0,603.3 240.4,603.3 241.8,603.3 243.1,603.3 244.5,603.3 245.9,603.3 247.2,603.3 248.6,603.3 250.0,603.2 251.4,603.2 252.7,603.2 254.1,603.2 255.5,603.2 256.9,603.2 258.2,603.2 259.6,603.2 261.0,603.2 262.3,603.2 263.7,603.2 265.1,603.2 266.5,603.2 267.8,603.1 269.2,603.1 270.6,603.1 271.0,603.1 271.4,603.1 271.8,603.1 272.0,603.1 272.2,603.1 272.6,603.1 273.1,603.1 273.3,603.1 273.5,603.1 273.9,603.1 274.3,603.1 274.7,603.1 275.1,603.1 275.5,603.1 275.9,603.1 276.1,603.1 276.3,603.1 276.8,603.1 277.2,603.0 277.4,603.0 277.6,603.0 278.0,603.0 278.4,603.0 278.8,603.0 279.2,603.0 279.6,603.0 280.0,603.0 280.2,603.0 280.5,603.0 280.9,603.0 281.3,603.0 281.6,603.0 281.7,603.0 282.1,603.0 282.5,603.0 282.9,603.0 283.3,602.9 283.8,602.9 284.2,602.9 284.3,602.9 284.6,602.9 285.0,602.9 285.4,602.9 285.7,602.9 285.8,602.9 286.2,602.9 286.6,602.9 287.0,602.9 287.5,602.9 287.9,602.8 288.3,602.8 288.4,602.8 288.7,602.8 289.1,602.8 289.5,602.8 289.8,602.8 289.9,602.8 290.3,602.8 290.8,602.8 291.2,602.7 291.6,602.7 292.0,602.7 292.4,602.7 292.5,602.7 292.8,602.7 293.2,602.7 293.6,602.6 293.9,602.6 294.0,602.6 294.5,602.6 294.9,602.6 295.3,602.5 295.7,602.5 296.1,602.5 296.5,602.5 296.7,602.5 296.9,602.4 297.3,602.4 297.8,602.4 298.0,602.4 298.2,602.3 298.6,602.3 299.0,602.3 299.4,602.2 299.8,602.2 300.2,602.1 300.6,602.1 300.8,602.1 301.0,602.0 301.5,602.0 301.9,601.9 302.1,601.9 302.3,601.8 302.7,601.8 303.1,601.7 303.5,601.6 303.9,601.5 304.3,601.4 304.8,601.3 304.9,601.2 305.2,601.1 305.6,601.0 306.0,600.8 306.3,600.6 306.4,600.6 306.8,600.3 307.2,600.0 307.6,599.7 307.7,599.6 307.7,599.6 307.8,599.6 307.8,599.5 307.8,599.5 307.9,599.4 307.9,599.4 308.0,599.4 308.0,599.3 308.0,599.3 308.1,599.2 308.1,599.2 308.2,599.1 308.2,599.1 308.3,599.0 308.3,599.0 308.3,598.9 308.4,598.9 308.4,598.8 308.5,598.7 308.5,598.7 308.5,598.6 308.6,598.6 308.6,598.5 308.7,598.4 308.7,598.4 308.7,598.3 308.8,598.2 308.8,598.1 308.9,598.1 308.9,598.0 309.0,597.9 309.0,597.8 309.0,597.8 309.0,597.7 309.1,597.6 309.1,597.6 309.2,597.5 309.2,597.4 309.2,597.3 309.3,597.2 309.3,597.0 309.4,596.9 309.4,596.8 309.4,596.7 309.5,596.6 309.5,596.5 309.6,596.3 309.6,596.2 309.7,596.0 309.7,595.9 309.7,595.7 309.8,595.6 309.8,595.4 309.9,595.2 309.9,595.1 309.9,594.9 310.0,594.7 310.0,594.5 310.1,594.2 310.1,594.0 310.1,593.8 310.2,593.5 310.2,593.3 310.3,593.0 310.3,592.7 310.4,592.4 310.4,592.1 310.4,592.0 310.4,591.7 310.5,591.3 310.5,590.9 310.6,590.5 310.6,590.0 310.6,589.5 310.7,589.0 310.7,588.4 310.8,587.8 310.8,587.2 310.8,586.4 310.9,585.7 310.9,584.8 311.0,583.9 311.0,582.8 311.1,581.7 311.1,580.4 311.1,579.0 311.2,577.3 311.2,575.5 311.3,573.4 311.3,570.9 311.3,568.1 311.4,564.8 311.4,560.9 311.5,556.2 311.5,550.5 311.5,543.6 311.6,535.1 311.6,524.9 311.7,512.7 311.7,498.7 311.8,483.6 311.8,468.6 311.8,454.6 311.9,442.4 311.9,432.2 312.0,423.7 312.0,416.8 312.0,411.1 312.1,406.4 312.1,402.5 312.2,399.2 312.2,396.4 312.2,393.9 312.3,391.8 312.3,390.0 312.4,388.3 312.4,386.9 312.4,385.6 312.5,384.5 312.5,383.4 312.6,382.5 312.6,381.6 312.7,380.9 312.7,380.1 312.7,379.5 312.8,378.9 312.8,378.3 312.9,377.8 312.9,377.3 312.9,376.8 313.0,376.4 313.0,376.0 313.1,375.6 313.1,375.3 313.1,375.2 313.1,374.9 313.2,374.6 313.2,374.3 313.3,374.0 313.3,373.8 313.4,373.5 313.4,373.3 313.4,373.1 313.5,372.8 313.5,372.6 313.6,372.4 313.6,372.2 313.6,372.1 313.7,371.9 313.7,371.7 313.8,371.6 313.8,371.4 313.8,371.3 313.9,371.1 313.9,371.0 314.0,370.8 314.0,370.7 314.1,370.6 314.1,370.5 314.1,370.4 314.2,370.3 314.2,370.1 314.3,370.0 314.3,369.9 314.3,369.8 314.4,369.7 314.4,369.7 314.5,369.6 314.5,369.5 314.5,369.5 314.5,369.4 314.6,369.3 314.6,369.2 314.7,369.2 314.7,369.1 314.8,369.0 314.8,368.9 314.8,368.9 314.9,368.8 314.9,368.7 315.0,368.7 315.0,368.6 315.0,368.6 315.1,368.5 315.1,368.4 315.2,368.4 315.2,368.3 315.2,368.3 315.3,368.2 315.3,368.2 315.4,368.1 315.4,368.1 315.5,368.0 315.5,368.0 315.5,367.9 315.6,367.9 315.6,367.9 315.7,367.8 315.7,367.8 315.7,367.7 315.8,367.7 315.8,367.7 315.9,367.6 316.3,367.3 316.7,367.0 317.1,366.7 317.2,366.7 317.5,366.5 317.9,366.3 318.3,366.2 318.6,366.1 318.7,366.0 319.2,365.9 319.6,365.8 320.0,365.7 320.4,365.6 320.8,365.5 321.2,365.5 321.4,365.4 321.6,365.4 322.0,365.3 322.5,365.3 322.7,365.2 322.9,365.2 323.3,365.2 323.7,365.1 324.1,365.1 324.5,365.0 324.9,365.0 325.3,365.0 325.5,364.9 325.7,364.9 326.2,364.9 326.6,364.9 326.8,364.8 327.0,364.8 327.4,364.8 327.8,364.8 328.2,364.8 328.6,364.7 329.0,364.7 329.5,364.7 329.6,364.7 329.9,364.7 330.3,364.6 330.7,364.6 331.0,364.6 331.1,364.6 331.5,364.6 331.9,364.6 332.3,364.6 332.7,364.5 333.2,364.5 333.6,364.5 333.7,364.5 334.0,364.5 334.4,364.5 334.8,364.5 335.1,364.5 335.2,364.5 335.6,364.5 336.0,364.4 336.5,364.4 336.9,364.4 337.3,364.4 337.7,364.4 337.8,364.4 338.1,364.4 338.5,364.4 338.9,364.4 339.2,364.4 339.3,364.4 339.7,364.4 340.2,364.4 340.6,364.3 341.0,364.3 341.4,364.3 341.8,364.3 341.9,364.3 342.2,364.3 342.6,364.3 343.0,364.3 343.3,364.3 343.5,364.3 343.9,364.3 344.3,364.3 344.7,364.3 345.1,364.3 345.5,364.3 345.9,364.3 346.1,364.3 346.3,364.3 346.7,364.2 347.2,364.2 347.4,364.2 347.6,364.2 348.0,364.2 348.4,364.2 348.8,364.2 349.2,364.2 349.6,364.2 350.0,364.2 350.2,364.2 350.4,364.2 350.9,364.2 351.3,364.2 351.5,364.2 351.7,364.2 352.1,364.2 352.5,364.2 352.9,364.2 354.3,364.2 355.7,364.2 357.0,364.1 358.4,364.1 359.8,364.1 361.2,364.1 362.5,364.1 363.9,364.1 365.3,364.1 366.6,364.1 368.0,364.1 369.4,364.1 370.8,364.1 372.1,364.1 373.5,364.1 374.9,364.0 376.3,364.0 377.6,364.0 379.0,364.0 380.4,364.0 381.7,364.0 383.1,364.0 384.5,364.0 385.9,364.0 387.2,364.0 388.6,364.0 390.0,364.0 391.3,364.0 392.7,364.0 394.1,364.0 395.5,364.0 396.8,364.0 398.2,364.0 399.6,364.0 401.0,364.0 402.3,364.0 403.7,364.0 405.1,364.0 406.4,364.0 407.8,364.0 409.2,364.0 410.6,364.0 411.9,364.0 413.3,364.0 414.7,364.0 416.0,364.0 417.4,363.9 418.8,363.9 420.2,363.9 421.5,363.9 422.9,363.9 424.3,363.9 425.7,363.9 427.0,363.9 428.4,363.9 429.8,363.9 431.1,363.9 432.5,363.9 433.9,363.9 435.3,363.9 436.6,363.9 438.0,363.9 439.4,363.9 440.7,363.9 442.1,363.9 443.5,363.9 444.9,363.9 446.2,363.9 447.6,363.9 449.0,363.9 450.4,363.9 451.7,363.9 453.1,363.9 454.5,363.9 455.8,363.9 457.2,363.9 458.6,363.9 460.0,363.9 461.3,363.9 462.7,363.9 464.1,363.9 465.4,363.9 466.8,363.9 468.2,363.9 469.6,363.9 470.9,363.9 472.3,363.9 473.7,363.9 475.1,363.9 476.4,363.9 477.8,363.9 479.2,363.9 480.5,363.9 481.9,363.9 483.3,363.9 484.7,363.9 486.0,363.9 487.4,363.9 488.8,363.9 490.2,363.9 491.5,363.9 492.9,363.9 494.3,363.9 495.6,363.9 497.0,363.9 498.4,363.9 499.8,363.9 501.1,363.9 502.5,363.9 503.9,363.9 505.2,363.9 506.6,363.9 508.0,363.9 509.4,363.9 510.7,363.9 512.1,363.9 513.5,363.9 514.9,363.9 516.2,363.9 517.6,363.9 519.0,363.9 520.3,363.9" fill="none" stroke="#800000" stroke-width="5" stroke-linejoin="round"/>
<polyline points="103.20,603.50 311.40,603.50 312.45,363.80 519.90,363.80" fill="none" stroke="#8000FF" stroke-width="5" stroke-linejoin="round"/>
</g>
<path d="M116.35 626.6H301.6M321.6 626.6H507.6" stroke="#000" stroke-width="3" fill="none"/>
<path d="M105.6 626.6L121.0 622.4L121.0 630.8000000000001Z" fill="#000" stroke="#000" stroke-width="1.6" stroke-linejoin="round"/>
<path d="M311.2 626.6L295.59999999999997 622.4L295.59999999999997 630.8000000000001Z" fill="#000" stroke="#000" stroke-width="1.6" stroke-linejoin="round"/>
<path d="M312.0 626.6L326.8 622.4L326.8 630.8000000000001Z" fill="#000" stroke="#000" stroke-width="1.6" stroke-linejoin="round"/>
<path d="M517.8 626.6L502.4 622.4L502.4 630.8000000000001Z" fill="#000" stroke="#000" stroke-width="1.6" stroke-linejoin="round"/>
<path d="M311.6 609.9V639.3" stroke="#000" stroke-width="1.4" fill="none"/>
<text x="98.4" y="343" font-size="18" text-anchor="end">0.00</text>
<text x="98.4" y="609" font-size="18" text-anchor="end">0.00</text>
<text x="98.4" y="273" font-size="18" text-anchor="end">0.25</text>
<text x="98.4" y="549" font-size="18" text-anchor="end">0.25</text>
<text x="98.4" y="204" font-size="18" text-anchor="end">0.50</text>
<text x="98.4" y="489" font-size="18" text-anchor="end">0.50</text>
<text x="98.4" y="134" font-size="18" text-anchor="end">0.75</text>
<text x="98.4" y="429" font-size="18" text-anchor="end">0.75</text>
<text x="98.4" y="65" font-size="18" text-anchor="end">1.00</text>
<text x="98.4" y="370" font-size="18" text-anchor="end">1.00</text>
<text x="208.72" y="661.6" font-size="18" text-anchor="middle">0.25</text>
<text x="311.65" y="661.6" font-size="18" text-anchor="middle">0.50</text>
<text x="414.57" y="661.6" font-size="18" text-anchor="middle">0.75</text>
<text x="517.50" y="661.6" font-size="18" text-anchor="middle">1.00</text>
<text x="303.4" y="686.3" font-size="22">p</text>
<text transform="translate(52 205.3) rotate(-89.9) scale(1 1.045)" font-size="22">P</text>
<text transform="translate(48.7 189.78) rotate(-90)" font-size="17.5">*</text>
<text transform="translate(52 490.3) rotate(-89.9) scale(1 1.045)" font-size="22">P</text>
<text transform="translate(48.7 474.78) rotate(-90)" font-size="17.5">*</text>
<text transform="translate(118.5 77) scale(0.975 1)" font-size="24.6">a)</text>
<text transform="translate(118.7 375) scale(0.975 1)" font-size="24.6">b)</text>
<text x="151.5" y="621" font-size="16.1" font-weight="bold">non-percolative</text>
<text x="371.3" y="621" font-size="16.1" font-weight="bold">percolative</text>
<rect x="155.8" y="76.3" width="79.6" height="73.9" fill="#fff" stroke="#333" stroke-width="1"/>
<path d="M162.5 88.40H191.8" stroke="#FF8000" stroke-width="5" stroke-linecap="round"/>
<text x="200.3" y="93.20" font-size="12.8" word-spacing="-0.3"><tspan font-style="italic">n</tspan> = 2</text>
<path d="M162.5 104.93H191.8" stroke="#FFFF00" stroke-width="5" stroke-linecap="round"/>
<text x="200.3" y="109.73" font-size="12.8" word-spacing="-0.3"><tspan font-style="italic">n</tspan> = 3</text>
<path d="M162.5 121.46H191.8" stroke="#008000" stroke-width="5" stroke-linecap="round"/>
<text x="200.3" y="126.26" font-size="12.8" word-spacing="-0.3"><tspan font-style="italic">n</tspan> = 4</text>
<path d="M162.5 137.99H191.8" stroke="#0000FF" stroke-width="5" stroke-linecap="round"/>
<text x="200.3" y="142.79" font-size="12.8" word-spacing="-0.3"><tspan font-style="italic">n</tspan> = 5</text>
<rect x="157.7" y="364.9" width="97.4" height="98.9" fill="#fff" stroke="#333" stroke-width="1"/>
<path d="M165.2 378.40H194.6" stroke="#FF0000" stroke-width="5" stroke-linecap="round"/>
<text x="202.8" y="383.20" font-size="12.8" word-spacing="-0.3"><tspan font-style="italic">n</tspan> = <tspan dx="0.7">1</tspan></text>
<path d="M165.2 395.10H194.6" stroke="#FF00FF" stroke-width="5" stroke-linecap="round"/>
<text x="202.8" y="399.90" font-size="12.8" word-spacing="-0.3"><tspan font-style="italic">n</tspan> = <tspan dx="0.7">10</tspan></text>
<path d="M165.2 413.50H194.6" stroke="#808080" stroke-width="5" stroke-linecap="round"/>
<text x="202.8" y="418.30" font-size="12.8" word-spacing="-0.3"><tspan font-style="italic">n</tspan> = <tspan dx="0.7">10<tspan font-size="8.2" dy="-5.8" dx="0.2">2</tspan></tspan></text>
<path d="M165.2 432.10H194.6" stroke="#800000" stroke-width="5" stroke-linecap="round"/>
<text x="202.8" y="436.90" font-size="12.8" word-spacing="-0.3"><tspan font-style="italic">n</tspan> = <tspan dx="0.7">10<tspan font-size="8.2" dy="-5.8" dx="0.2">3</tspan></tspan></text>
<path d="M165.2 450.70H194.6" stroke="#8000FF" stroke-width="5" stroke-linecap="round"/>
<text x="202.8" y="455.50" font-size="12.8" word-spacing="-0.3"><tspan font-style="italic">n</tspan> = <tspan dx="0.7">10<tspan font-size="8.2" dy="-5.8" dx="0.2">10</tspan></tspan></text>
</svg></body></html>
